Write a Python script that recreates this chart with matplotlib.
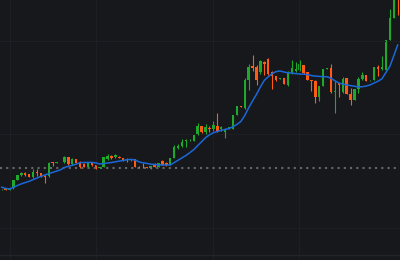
import numpy as np
import matplotlib
matplotlib.use("Agg")
import matplotlib.pyplot as plt

# daily candles (price units), left to right; NaN = no bar drawn
opens = [70.7, 71.7, 70.3, 71.7, 80, 85.3, 87.3, 86, 82.7, 88.3,
         87.3, 84.3, 84.3, 97.7, 97.3, np.nan, 98, 103, 96.3, 100.7,
         98.3, 96.5, 93.3, 97.3, 95, 92.3, 93.3, 100.7, 104, 102.7,
         103.3, 101.8, 101.3, 99.7, 100.7, 93.3, 93.2, 93, 91.8, 96.2,
         93, 98.7, 97.5, 95, 102, 111.7, 113.7, 119.2, 119.7, 119.5,
         125, 134, 127.8, 132.5, 131.5, 134, 131, 128.5, 131.5, 131.5,
         145, 154.2, 152, 180, 193.7, 192.7, 188, 198.5, 201.5, 188,
         184, 181, 182, 175, 187, 189.5, 189.7, 195, 188, 180,
         179, 163.3, 174, 191, 191.7, 168.3, 176.7, 168, 182.3, 166,
         160, 171, 181, 185, 179.7, 180, 193, 191, 190, 220,
         242, 278]
highs = [71.5, 72, 72, 80.5, 85, 88.3, 88.3, 86.5, 91, 91,
         87.5, 85, 98.3, 98, 98, np.nan, 104.3, 103.5, 102.5, 101.3,
         99.3, 97, 97.7, 97.7, 95.3, 93.3, 103.3, 105.7, 105.3, 106,
         103.7, 102, 102, 101.3, 101, 93.7, 96.7, 93.3, 94.5, 96.7,
         97.3, 100, 98, 102.3, 114.7, 115.7, 121, 121, 120.7, 125.3,
         136.7, 134.3, 136.3, 134, 139, 146.7, 134.5, 132.3, 133.5, 145.5,
         154.5, 154.5, 182, 195.7, 205.5, 195, 200, 199, 202, 189,
         184.5, 182.3, 182.3, 189.3, 200, 198, 200.5, 195.5, 188.3, 180.5,
         180, 174.3, 191.3, 192, 196, 179, 177, 183.3, 182.5, 172,
         171.3, 183.3, 188, 185.3, 180.5, 193.3, 195, 204, 220.3, 251,
         275, 280]
lows = [70.5, 70, 70, 71.5, 80, 84.3, 84, 83, 82.5, 84.3,
        83.5, 77.3, 83.3, 94.3, 97.3, np.nan, 97.3, 95.5, 95.5, 96.7,
        92.3, 93, 93, 94.5, 91.5, 92, 93, 100, 101, 102.3,
        102, 99.5, 98.3, 99.3, 92.7, 92, 92, 92, 91.5, 93,
        92.7, 94.7, 94.3, 94.7, 101.7, 111, 113.3, 113.5, 119.5, 119.3,
        124.7, 127.5, 126.5, 127.7, 129, 128.5, 129, 122.3, 131, 131,
        144.7, 153, 151, 170.5, 189, 175, 186, 185, 185.5, 171,
        179.5, 180.7, 176, 174.3, 186.5, 188, 189.3, 186.3, 179.7, 169.3,
        157.3, 159.3, 173.7, 190.8, 167.3, 147.3, 163, 167, 165.7, 155.5,
        159.7, 167, 180, 178.7, 179.5, 179.7, 184, 190, 189.7, 219.7,
        241.7, 245]
closes = [71.3, 70, 71.7, 80, 85, 87.3, 85, 83.3, 88.3, 86.7,
          84, 83.3, 96.7, 97, 98, np.nan, 103, 96, 101.3, 97.3,
          93.3, 93.3, 97.3, 95, 91.8, 93, 103, 104.3, 101.7, 104.7,
          102.5, 99.8, 99.7, 100.7, 93, 92.3, 92.6, 92.3, 94.2, 93.3,
          97.1, 95.3, 94.7, 102, 113.5, 114.5, 118.5, 120, 120.5, 125,
          134, 127.8, 132.5, 130.8, 135, 129, 133, 130, 133.1, 145,
          154.2, 153.4, 180, 193.3, 192.5, 180, 199.3, 196, 186, 184.5,
          180, 182, 176.5, 187.3, 192, 191, 195.7, 186.7, 180, 179,
          163.3, 174, 191, 191.7, 168.3, 169.3, 175, 181.3, 166, 160,
          171, 181, 185, 179, 180.3, 193, 191, 193, 220, 242,
          272, 264]
# moving average
ma = [72.8, 71.6, 71, 72.7, 74.5, 76.1, 77.4, 78.7, 80.3, 82,
      83.6, 85, 86.3, 87.6, 88.9, 90.2, 92.5, 93.7, 94.7, 95.9,
      97.3, 97.5, 97.6, 97.6, 97.1, 96, 96.5, 97, 97.5, 98.2,
      98.9, 99.6, 100.2, 100.6, 100, 98.2, 97.2, 96.6, 95.9, 95.5,
      95.1, 95, 95, 95.1, 97.4, 99.8, 102.2, 104.5, 107.4, 110.4,
      114.4, 118.3, 122.3, 125.1, 127.3, 128.5, 129.6, 130.5, 131.5, 133.3,
      135.6, 138.5, 144.5, 152.2, 159.1, 165.7, 173.1, 179.7, 183.2, 186.4,
      188.4, 189, 188, 187.2, 186.9, 186.4, 186, 185.8, 185.5, 184.4,
      183.9, 183.6, 183.3, 183.3, 181.6, 179.3, 177, 176, 175, 174.4,
      173.8, 173, 173.3, 174, 175.1, 177, 178.8, 181.2, 187.5, 193.5,
      204, 215]
ref_price = 92.3          # dotted reference line
grid_x = [2.1, 24.1, 53.9, 75.9]
grid_y = [32, 126, 219]

bg = "#17181c"
up_col = "#20a82c"
down_col = "#ff5b14"

o = np.array(opens); h = np.array(highs); l = np.array(lows); c = np.array(closes)
x = np.arange(len(o))
ok = ~np.isnan(o)
cols = np.where(c >= o, up_col, down_col)

fig = plt.figure(figsize=(4, 2.6), dpi=100, facecolor=bg)
ax = fig.add_axes([0, 0, 1, 1], facecolor=bg)

ax.set_xticks(grid_x)
ax.set_yticks(grid_y)
ax.grid(True, color="#1d1f24", lw=0.8)
ax.axhline(5, color="#222429", lw=1)
ax.axhline(ref_price, color="#65676b", lw=1.5, ls=(0, (1, 2)))

ax.vlines(x[ok], l[ok], h[ok], colors=cols[ok], lw=0.8)
body_lo = np.minimum(o, c)
body_h = np.maximum(np.abs(c - o), 0.7)
ax.bar(x[ok], body_h[ok], bottom=body_lo[ok], width=0.62, color=cols[ok], lw=0)

ax.plot(x, ma, color="#1a68d8", lw=1.1)

ax.set_xlim(-0.43, 101.6)
ax.set_ylim(0, 260)
for s in ax.spines.values():
    s.set_visible(False)
ax.tick_params(length=0, labelbottom=False, labelleft=False)

fig.savefig("out.png", dpi=100, facecolor=bg)
